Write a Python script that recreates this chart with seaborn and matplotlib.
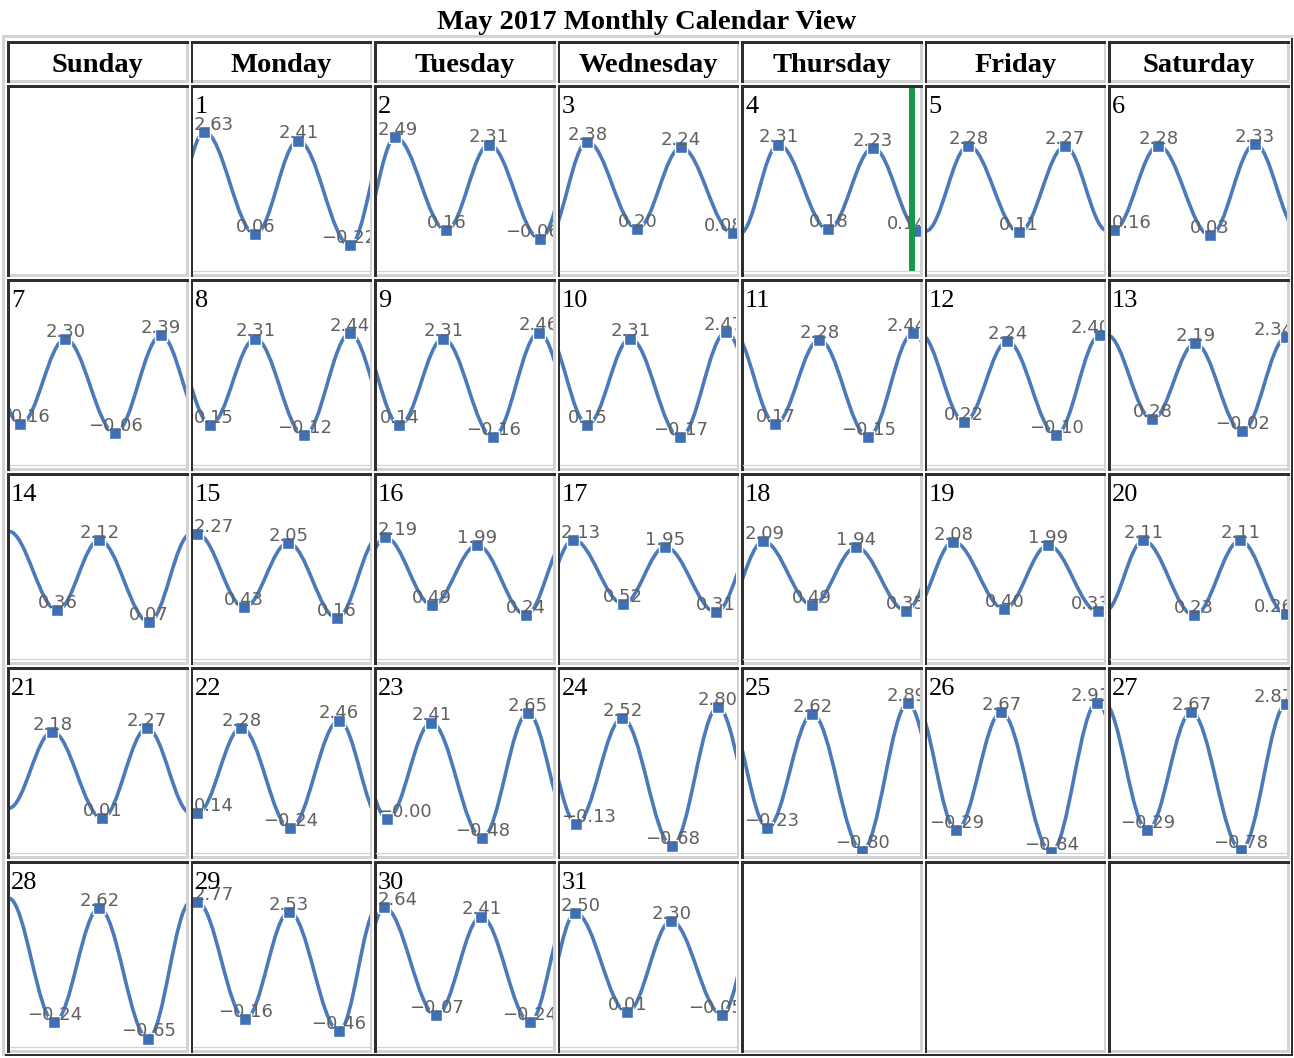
import matplotlib
matplotlib.use("Agg")
import matplotlib.pyplot as plt
from matplotlib.path import Path
from matplotlib.patches import PathPatch, Rectangle
import seaborn as sns

month_title = "May 2017 Monthly Calendar View"
weekday_names = ["Sunday", "Monday", "Tuesday", "Wednesday", "Thursday", "Friday", "Saturday"]
first_weekday = 1   # 1 May 2017 is a Monday
n_days = 31

# hour of day of each high / low water, per day of month
tide_hours = [
    [1.56, 8.47, 14.31, 21.36],    # 1
    [2.58, 9.49, 15.32, 22.24],    # 2
    [3.73, 10.51, 16.47, 23.53],   # 3
    [4.75, 11.53, 17.63, 23.85],   # 4
    [5.63, 12.54, 18.78],          # 5
    [0.41, 6.51, 13.56, 19.66],    # 6
    [1.49, 7.59, 14.37, 20.61],    # 7
    [2.37, 8.47, 15.12, 21.36],    # 8
    [3.12, 9.08, 15.86, 22.10],    # 9
    [3.73, 9.56, 16.34, 22.58],    # 10
    [4.34, 10.31, 16.95, 23.05],   # 11
    [5.08, 10.92, 17.56, 23.53],   # 12
    [5.69, 11.53, 17.90, 23.90],   # 13
    [6.51, 12.20, 18.98],          # 14
    [0.61, 6.98, 12.95, 19.59],    # 15
    [1.22, 7.59, 13.69, 20.34],    # 16
    [1.83, 8.61, 14.31, 21.22],    # 17
    [2.71, 9.36, 15.32, 22.10],    # 18
    [3.59, 10.51, 16.47, 23.25],   # 19
    [4.47, 11.39, 17.63, 23.90],   # 20
    [5.83, 12.61, 18.71],          # 21
    [0.61, 6.58, 13.22, 19.86],    # 22
    [1.49, 7.46, 14.37, 20.61],    # 23
    [2.24, 8.47, 15.25, 21.49],    # 24
    [3.25, 9.36, 16.14, 22.37],    # 25
    [4.00, 10.10, 16.88, 23.12],   # 26
    [5.02, 10.98, 17.76, 23.90],   # 27
    [6.10, 12.20, 18.85],          # 28
    [0.61, 7.12, 13.08, 19.86],    # 29
    [1.08, 8.14, 14.24, 20.88],    # 30
    [2.10, 9.15, 15.12, 22.03],    # 31
]
# water level (m) of each high / low
tide_levels = [
    [2.63, 0.06, 2.41, -0.22],
    [2.49, 0.16, 2.31, -0.06],
    [2.38, 0.20, 2.24, 0.08],
    [2.31, 0.18, 2.23, 0.14],
    [2.28, 0.11, 2.27],
    [0.16, 2.28, 0.03, 2.33],
    [0.16, 2.30, -0.06, 2.39],
    [0.15, 2.31, -0.12, 2.44],
    [0.14, 2.31, -0.16, 2.46],
    [0.15, 2.31, -0.17, 2.47],
    [0.17, 2.28, -0.15, 2.44],
    [0.22, 2.24, -0.10, 2.40],
    [0.28, 2.19, -0.02, 2.34],
    [0.36, 2.12, 0.07],
    [2.27, 0.43, 2.05, 0.16],
    [2.19, 0.49, 1.99, 0.24],
    [2.13, 0.52, 1.95, 0.31],
    [2.09, 0.49, 1.94, 0.35],
    [2.08, 0.40, 1.99, 0.33],
    [2.11, 0.23, 2.11, 0.26],
    [2.18, 0.01, 2.27],
    [0.14, 2.28, -0.24, 2.46],
    [-0.0, 2.41, -0.48, 2.65],
    [-0.13, 2.52, -0.68, 2.80],
    [-0.23, 2.62, -0.80, 2.89],
    [-0.29, 2.67, -0.84, 2.91],
    [-0.29, 2.67, -0.78, 2.87],
    [-0.24, 2.62, -0.65],
    [2.77, -0.16, 2.53, -0.46],
    [2.64, -0.07, 2.41, -0.24],
    [2.50, 0.01, 2.30, -0.05],
]
april30_last = [-4.0, -0.25]   # hours before 1 May 00:00, level
june1_first = [3.0, 2.40]      # hours after 1 Jun 00:00, level
now_day, now_hour = 4, 22.85

# ---- layout (pixels) ----
FIG_W, FIG_H = 1294, 1058
COL_LEFT0, COL_PITCH, CELL_W = 7, 183.5, 181.5
HEAD_TOP, HEAD_H = 41, 41.5
ROW_TOP0, ROW_PITCH, CELL_H = 85, 194, 191.5
PLOT_BOTTOM = 185.5
BD = 2.5
Y_MIN, Y_MAX = -0.85, 3.74
DARK, LIGHT = "#2e2e2e", "#d3d3d3"
LINE_C, MARK_C, LABEL_C = "#4a7aba", "#3f70b5", "#606060"
SERIF = "Liberation Serif"

sns.set_style("white")

fig = plt.figure(figsize=(FIG_W / 100, FIG_H / 100), dpi=100)
bg = fig.add_axes([0, 0, 1, 1], label="bg")
bg.set_xlim(0, FIG_W)
bg.set_ylim(FIG_H, 0)
bg.axis("off")


def frame(L, T, W, H, tl, br):
    bg.add_patch(Rectangle((L, T), W, BD, color=tl, lw=0))
    bg.add_patch(Rectangle((L, T), BD, H, color=tl, lw=0))
    bg.add_patch(Rectangle((L + W - BD, T + BD), BD, H - BD, color=br, lw=0))
    bg.add_patch(Rectangle((L + BD, T + H - BD), W - BD, BD, color=br, lw=0))


# table outline (outset) and cells (inset)
frame(2, 35, 1291, 1021, LIGHT, DARK)
for c in range(7):
    frame(COL_LEFT0 + c * COL_PITCH, HEAD_TOP, CELL_W, HEAD_H, DARK, LIGHT)
    for r in range(5):
        frame(COL_LEFT0 + c * COL_PITCH, ROW_TOP0 + r * ROW_PITCH, CELL_W, CELL_H, DARK, LIGHT)

# one continuous tide series over the month (absolute hours)
all_t = [april30_last[0]]
all_v = [april30_last[1]]
for d in range(n_days):
    all_t += [d * 24 + h for h in tide_hours[d]]
    all_v += tide_levels[d]
all_t.append(n_days * 24 + june1_first[0])
all_v.append(june1_first[1])


def tide_path(ts, vs, k=0.36):
    verts = [(ts[0], vs[0])]
    codes = [Path.MOVETO]
    for i in range(1, len(ts)):
        dx = ts[i] - ts[i - 1]
        verts += [(ts[i - 1] + k * dx, vs[i - 1]), (ts[i] - k * dx, vs[i]), (ts[i], vs[i])]
        codes += [Path.CURVE4] * 3
    return Path(verts, codes)


labels = []
day_axes = {}
for d in range(1, n_days + 1):
    idx = first_weekday + d - 1
    row, col = divmod(idx, 7)
    L = COL_LEFT0 + col * COL_PITCH
    T = ROW_TOP0 + row * ROW_PITCH
    ax = fig.add_axes([(L + BD) / FIG_W, 1 - (T + PLOT_BOTTOM) / FIG_H,
                       (CELL_W - 2 * BD) / FIG_W, (PLOT_BOTTOM - BD) / FIG_H],
                      label=f"day{d}")
    ax.set_facecolor("none")
    ax.add_patch(PathPatch(tide_path(all_t, all_v), facecolor="none",
                           edgecolor=LINE_C, lw=2.6, zorder=2))
    ts = [(d - 1) * 24 + h for h in tide_hours[d - 1]]
    vs = tide_levels[d - 1]
    sns.scatterplot(x=ts, y=vs, marker="s", s=85, color=MARK_C, edgecolor="white",
                    linewidth=1.0, ax=ax, zorder=4, legend=False)
    for t, v in zip(ts, vs):
        a = ax.annotate(f"{v:.2f}".replace("-", "\u2212"), (t, v), xytext=(0, 1.5),
                        textcoords="offset points", ha="center", va="baseline",
                        fontsize=13, color=LABEL_C, family="DejaVu Sans",
                        clip_on=True, zorder=5)
        labels.append((a, ax))
    if d == now_day:
        ax.axvline((d - 1) * 24 + now_hour, color="#17994a", lw=4.3, zorder=6)
    ax.set_xlim((d - 1) * 24, d * 24)
    ax.set_ylim(Y_MIN, Y_MAX)
    ax.set_xticks([])
    ax.set_yticks([])
    ax.set_xlabel("")
    ax.set_ylabel("")
    for s in ["top", "left", "right"]:
        ax.spines[s].set_visible(False)
    ax.spines["bottom"].set_color("#c5d3e2")
    ax.spines["bottom"].set_linewidth(0.9)
    day_axes[d] = (ax, L, T)

# overlay with titles and day numbers
top = fig.add_axes([0, 0, 1, 1], label="overlay")
top.set_xlim(0, FIG_W)
top.set_ylim(FIG_H, 0)
top.axis("off")
top.text(FIG_W / 2, 29, month_title, ha="center", va="baseline", fontsize=20.5,
         fontweight="bold", family=SERIF, color="black")
for c, name in enumerate(weekday_names):
    top.text(COL_LEFT0 + c * COL_PITCH + CELL_W / 2, 72, name, ha="center",
             va="baseline", fontsize=20.5, fontweight="bold", family=SERIF, color="black")
for d, (ax, L, T) in day_axes.items():
    top.text(L + 4, T + 28, str(d), ha="left", va="baseline", fontsize=19,
             family=SERIF, color="black")

# labels are kept inside the chart: flush left, or at most 7 px past the right edge
fig.canvas.draw()
renderer = fig.canvas.get_renderer()
for a, ax in labels:
    bb = a.get_window_extent(renderer)
    abox = ax.get_window_extent(renderer)
    shift = 0
    if bb.x0 < abox.x0 + 1:
        shift = abox.x0 + 1 - bb.x0
    elif bb.x1 > abox.x1 + 7:
        shift = abox.x1 + 7 - bb.x1
    if shift:
        a.xyann = (shift * 72 / fig.dpi, 1.5)

fig.savefig("out.png", dpi=100)
